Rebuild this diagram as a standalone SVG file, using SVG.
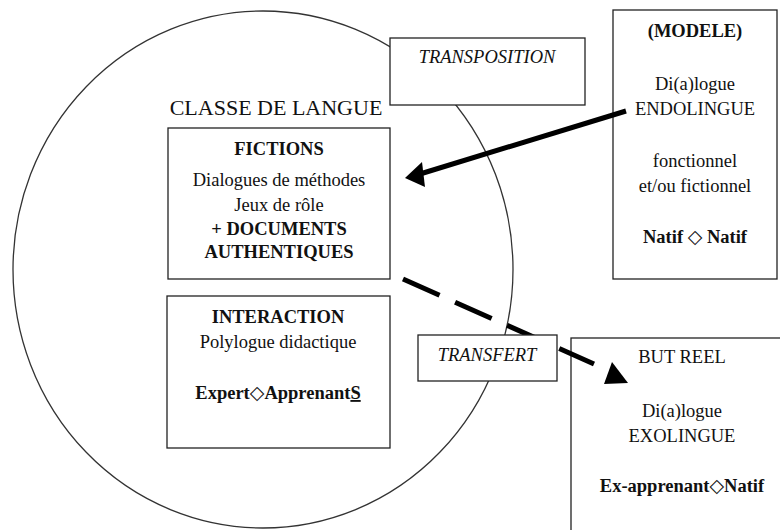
<svg xmlns="http://www.w3.org/2000/svg" width="780" height="530" viewBox="0 0 780 530">
<style>
.box{fill:#fff;stroke:#222;stroke-width:1.3}
text{font-family:"Liberation Serif","Times New Roman",serif;font-size:18.5px;fill:#111;text-anchor:middle}
.b{font-weight:bold}
.i{font-style:italic}
.big{font-size:22px}
.sym{font-family:"DejaVu Sans",sans-serif;font-weight:bold;font-size:19px}
</style>
<rect width="780" height="530" fill="#fff"/>
<g id="classe">
<ellipse cx="263" cy="269.5" rx="250" ry="258.5" fill="none" stroke="#333" stroke-width="1.3"/>
<text class="big" x="276" y="115">CLASSE DE LANGUE</text>
</g>
<g id="fictions">
<rect class="box" x="168" y="128" width="222" height="151"/>
<text class="b" x="279" y="155">FICTIONS</text>
<text x="279" y="186">Dialogues de méthodes</text>
<text x="279" y="211">Jeux de rôle</text>
<text class="b" x="279" y="235">+ DOCUMENTS</text>
<text class="b" x="279" y="258">AUTHENTIQUES</text>
</g>
<g id="interaction">
<rect class="box" x="167" y="296" width="223" height="152"/>
<text class="b" x="278" y="323">INTERACTION</text>
<text x="278" y="348">Polylogue didactique</text>
<text class="b" x="278" y="399">Expert<tspan class="sym">◇</tspan>Apprenant<tspan text-decoration="underline">S</tspan></text>
</g>
<g id="transposition">
<rect class="box" x="390" y="38" width="195" height="67"/>
<text class="i" x="487" y="63">TRANSPOSITION</text>
</g>
<g id="modele">
<rect class="box" x="613" y="10" width="164" height="269"/>
<text class="b" x="695" y="37">(MODELE)</text>
<text x="695" y="90">Di(a)logue</text>
<text x="695" y="115">ENDOLINGUE</text>
<text x="695" y="167">fonctionnel</text>
<text x="695" y="192">et/ou fictionnel</text>
<text class="b" x="695" y="243">Natif <tspan class="sym">◇</tspan> Natif</text>
</g>
<g id="but-reel">
<rect class="box" x="571" y="338" width="222" height="200"/>
<text x="682" y="363">BUT REEL</text>
<text x="682" y="417">Di(a)logue</text>
<text x="682" y="442">EXOLINGUE</text>
<text class="b" x="682" y="492">Ex-apprenant<tspan class="sym">◇</tspan>Natif</text>
</g>
<g id="connectors">
<line x1="626" y1="111" x2="420" y2="174" stroke="#000" stroke-width="5"/>
<polygon points="405,178 422,162 425,187" fill="#000"/>
<line x1="403" y1="279" x2="594" y2="364" stroke="#000" stroke-width="5" stroke-dasharray="40 17"/>
<polygon points="612,362 604,384 628,383" fill="#000"/>
</g>
<g id="transfert">
<rect class="box" x="418" y="335" width="139" height="46"/>
<text class="i" x="487" y="361">TRANSFERT</text>
</g>
</svg>
